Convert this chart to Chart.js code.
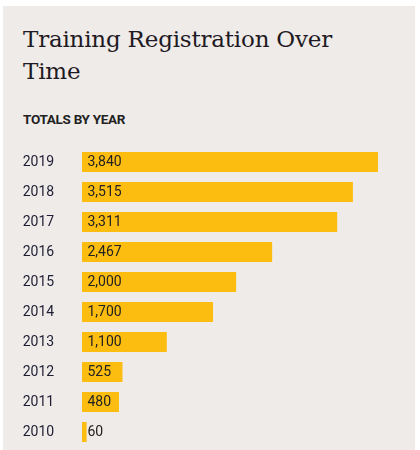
<!DOCTYPE html>
<html>
<head>
<meta charset="utf-8">
<script src="https://cdn.jsdelivr.net/npm/chart.js@4"></script>
<style>
  html, body { margin: 0; padding: 0; background: #fff; }
  body { width: 420px; height: 450px; position: relative; overflow: hidden; }
  .panel {
    position: absolute; left: 3px; top: 6px; width: 412px; height: 444px;
    background: #efebe8;
  }
  h1 {
    position: absolute; left: 20px; top: 17px; margin: 0; width: 330px;
    font-family: "DejaVu Serif", serif; font-weight: normal;
    font-size: 23px; letter-spacing: -0.2px; line-height: 32px; color: #1f1a24;
  }
  h2 {
    position: absolute; left: 20px; top: 105px; margin: 0;
    font-family: Roboto, sans-serif; font-weight: 700;
    font-size: 13.5px; letter-spacing: -0.3px; color: #222;
  }
  .chart-box { position: absolute; left: 0; top: 141px; width: 412px; height: 300px; }
</style>
</head>
<body>
<div class="panel">
  <h1>Training Registration Over Time</h1>
  <h2>TOTALS BY YEAR</h2>
  <div class="chart-box"><canvas id="chart"></canvas></div>
</div>
<script>
const years = ['2019', '2018', '2017', '2016', '2015', '2014', '2013', '2012', '2011', '2010'];
const registrations = [3840, 3515, 3311, 2467, 2000, 1700, 1100, 525, 480, 60];
const axisMax = 4000;

// writes the number just inside the start of each bar
const barValueLabels = {
  id: 'barValueLabels',
  afterDatasetsDraw(chart) {
    const ctx = chart.ctx;
    const meta = chart.getDatasetMeta(0);
    ctx.save();
    ctx.font = '14px Roboto, sans-serif';
    ctx.fillStyle = '#222';
    ctx.textAlign = 'left';
    ctx.textBaseline = 'middle';
    meta.data.forEach((bar, i) => {
      ctx.fillText(registrations[i].toLocaleString('en-US'), bar.base + 5.5, bar.y + 0.5);
    });
    ctx.restore();
  }
};

new Chart(document.getElementById('chart'), {
  type: 'bar',
  data: {
    labels: years,
    datasets: [{
      data: registrations,
      backgroundColor: '#fdbd10',
      borderWidth: 0,
      categoryPercentage: 1,
      barPercentage: 20 / 30
    }]
  },
  options: {
    indexAxis: 'y',
    responsive: true,
    maintainAspectRatio: false,
    animation: false,
    layout: { padding: { left: 19.7, right: 24.7, top: 0, bottom: 0 } },
    plugins: {
      legend: { display: false },
      tooltip: { enabled: false }
    },
    scales: {
      x: {
        display: false,
        min: 0,
        max: axisMax
      },
      y: {
        grid: { display: false },
        border: { display: false },
        ticks: {
          crossAlign: 'far',
          color: '#1d1d33',
          font: { family: 'Roboto, sans-serif', size: 14 }
        },
        afterFit(axis) {
          axis.width = 59.3;
          axis.paddingTop = 0;
          axis.paddingBottom = 0;
        }
      }
    }
  },
  plugins: [barValueLabels]
});
</script>
</body>
</html>
